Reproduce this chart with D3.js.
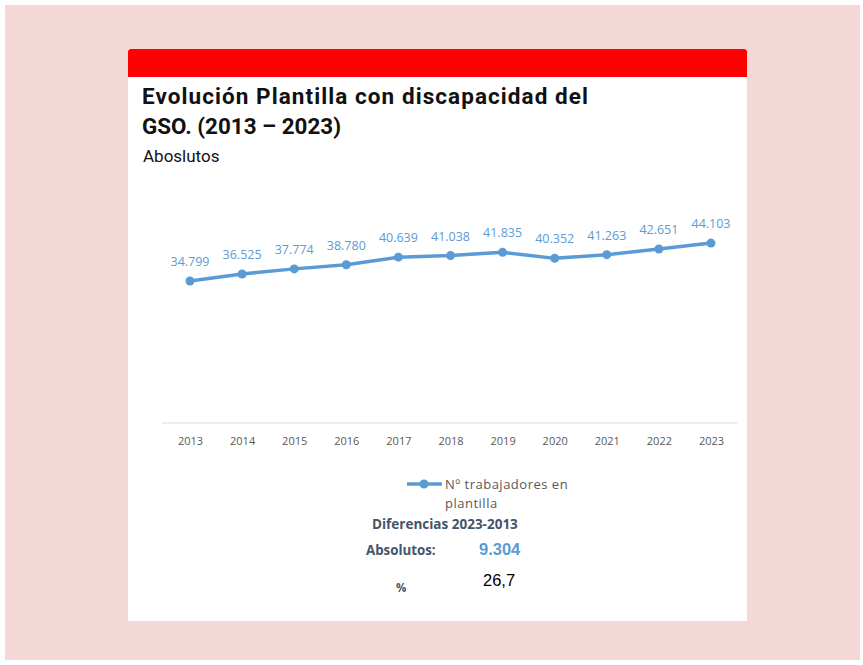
<!DOCTYPE html>
<html>
<head>
<meta charset="utf-8">
<script src="https://cdn.jsdelivr.net/npm/d3@7"></script>
<style>
  body { margin: 0; background: #fff; }
  svg { display: block; }
</style>
</head>
<body>
<div id="js-chart-container"></div>
<script>
const years = ['2013', '2014', '2015', '2016', '2017', '2018', '2019', '2020', '2021', '2022', '2023'];
const workers = [34799, 36525, 37774, 38780, 40639, 41038, 41835, 40352, 41263, 42651, 44103];
const labels = ['34.799', '36.525', '37.774', '38.780', '40.639', '41.038', '41.835', '40.352', '41.263', '42.651', '44.103'];
const seriesName = ['Nº trabajadores en', 'plantilla'];

const W = 863, H = 665;
const blue = '#5b9bd5';

const svg = d3.select('#js-chart-container')
  .append('svg')
  .attr('width', W)
  .attr('height', H);

// pink page + white card
svg.append('rect').attr('x', 5).attr('y', 5).attr('width', 855).attr('height', 655).attr('fill', '#f4d7d7');
svg.append('rect').attr('x', 128).attr('y', 49).attr('width', 619).attr('height', 572).attr('fill', '#fff');
svg.append('path')
  .attr('d', 'M128,77 V52 Q128,49 131,49 H744 Q747,49 747,52 V77 Z')
  .attr('fill', '#ff0000');

// Titles
const title = svg.append('text')
  .attr('font-family', 'Roboto, sans-serif')
  .attr('font-weight', 'bold')
  .attr('font-size', '22.5px')
  .attr('fill', '#111');
title.append('tspan').attr('x', 142).attr('y', 104)
  .attr('textLength', 446).attr('lengthAdjust', 'spacing')
  .text('Evolución Plantilla con discapacidad del');
title.append('tspan').attr('x', 142).attr('y', 134)
  .attr('textLength', 199).attr('lengthAdjust', 'spacingAndGlyphs')
  .text('GSO. (2013 – 2023)');

svg.append('text')
  .attr('x', 143).attr('y', 162)
  .attr('font-family', 'Roboto, sans-serif')
  .attr('font-size', '17px')
  .attr('fill', '#111')
  .text('Aboslutos');

// Scales
const x = d3.scalePoint().domain(years).range([190, 711]);
const y = d3.scaleLinear().domain([0, 50000]).range([423, 219]);

// Axis
const xAxis = svg.append('g')
  .attr('transform', 'translate(0,423)')
  .call(d3.axisBottom(x).tickSize(0).tickPadding(14));
xAxis.select('.domain').attr('d', 'M162,0H737').attr('stroke', '#d9d9d9').attr('stroke-width', 1);
xAxis.selectAll('text')
  .attr('font-family', 'Open Sans, sans-serif')
  .attr('font-size', '11px')
  .attr('fill', '#595959');

// Line
const line = d3.line()
  .x((d, i) => x(years[i]))
  .y(d => y(d));

svg.append('path')
  .datum(workers)
  .attr('fill', 'none')
  .attr('stroke', blue)
  .attr('stroke-width', 3.5)
  .attr('stroke-linejoin', 'round')
  .attr('d', line);

svg.selectAll('.dot')
  .data(workers)
  .enter()
  .append('circle')
  .attr('class', 'dot')
  .attr('cx', (d, i) => x(years[i]))
  .attr('cy', d => y(d))
  .attr('r', 4.5)
  .attr('fill', blue);

svg.selectAll('.lbl')
  .data(workers)
  .enter()
  .append('text')
  .attr('class', 'lbl')
  .attr('x', (d, i) => x(years[i]))
  .attr('y', d => y(d) - 15)
  .attr('text-anchor', 'middle')
  .attr('font-family', 'Open Sans, sans-serif')
  .attr('font-size', '12.5px')
  .attr('fill', blue)
  .text((d, i) => labels[i]);

// Legend
svg.append('line')
  .attr('x1', 407).attr('x2', 442).attr('y1', 484).attr('y2', 484)
  .attr('stroke', blue).attr('stroke-width', 3.5);
svg.append('circle').attr('cx', 424).attr('cy', 484).attr('r', 4.5).attr('fill', blue);
const leg = svg.append('text')
  .attr('font-family', 'Open Sans, sans-serif')
  .attr('font-size', '13px')
  .attr('letter-spacing', '0.5px')
  .attr('fill', '#595959');
leg.append('tspan').attr('x', 445).attr('y', 489).text(seriesName[0]);
leg.append('tspan').attr('x', 445).attr('y', 508).text(seriesName[1]);

// Difference box
svg.append('text')
  .attr('x', 372).attr('y', 529)
  .attr('font-family', 'Open Sans, sans-serif')
  .attr('font-weight', 'bold')
  .attr('font-size', '13.5px')
  .attr('fill', '#44546a')
  .text('Diferencias 2023-2013');
svg.append('text')
  .attr('x', 366).attr('y', 555)
  .attr('font-family', 'Open Sans, sans-serif')
  .attr('font-weight', 'bold')
  .attr('font-size', '13.3px')
  .attr('fill', '#44546a')
  .text('Absolutos:');
svg.append('text')
  .attr('x', 479).attr('y', 555)
  .attr('font-family', 'Liberation Sans, Arial, sans-serif')
  .attr('font-weight', 'bold')
  .attr('font-size', '16.5px')
  .attr('fill', blue)
  .text(d3.format(',')(workers[10] - workers[0]).replace(',', '.'));
svg.append('text')
  .attr('x', 396).attr('y', 592)
  .attr('font-family', 'Open Sans, sans-serif')
  .attr('font-weight', 'bold')
  .attr('font-size', '11.5px')
  .attr('fill', '#44546a')
  .text('%');
svg.append('text')
  .attr('x', 483).attr('y', 586)
  .attr('font-family', 'Liberation Sans, Arial, sans-serif')
  .attr('font-size', '16.5px')
  .attr('fill', '#000')
  .text('26,7');
</script>
</body>
</html>
